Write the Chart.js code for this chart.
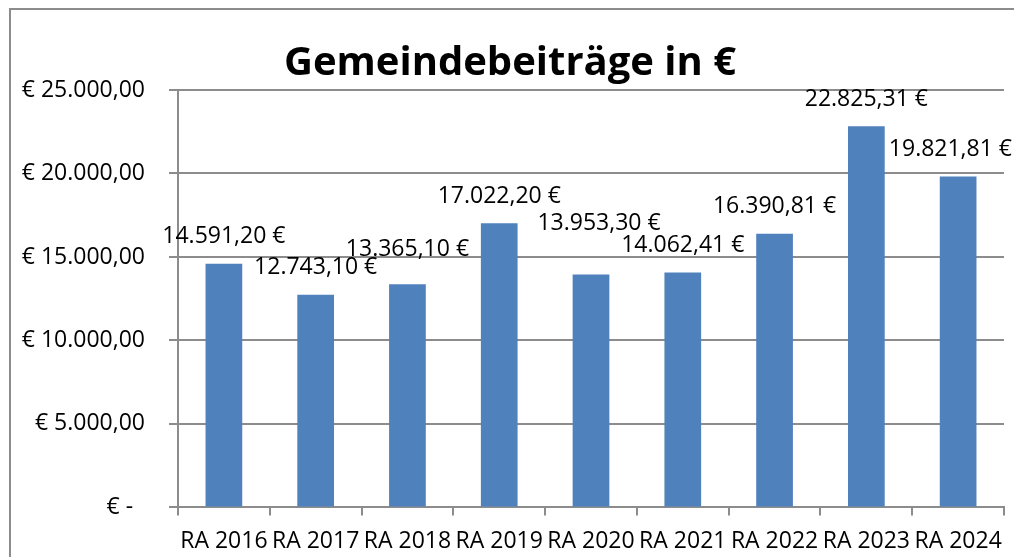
<!DOCTYPE html>
<html>
<head>
<meta charset="utf-8">
<script src="https://cdn.jsdelivr.net/npm/chart.js@4.4.0/dist/chart.umd.min.js"></script>
<style>
  html, body { margin: 0; padding: 0; background: #fff; overflow: hidden; }
  #wrap { position: relative; width: 1014px; height: 557px; overflow: hidden; }
  #frame { position: absolute; left: 9px; top: 8px; right: -10px; bottom: -10px; border-left: 2px solid #8c8c8c; border-top: 2px solid #8c8c8c; pointer-events: none; }
</style>
</head>
<body>
<div id="wrap">
  <canvas id="chart" width="1014" height="569"></canvas>
  <div id="frame"></div>
</div>
<script>
// Gemeindebeiträge in € - Rechnungsabschlüsse 2016-2024
const categories = ['RA 2016', 'RA 2017', 'RA 2018', 'RA 2019', 'RA 2020', 'RA 2021', 'RA 2022', 'RA 2023', 'RA 2024'];
const values = [14591.20, 12743.10, 13365.10, 17022.20, 13953.30, 14062.41, 16390.81, 22825.31, 19821.81];
const yTicks = [0, 5000, 10000, 15000, 20000, 25000];

const FONT = "'Open Sans', sans-serif";

function formatDe(v) {
  return new Intl.NumberFormat('de-DE', { minimumFractionDigits: 2, maximumFractionDigits: 2 }).format(v);
}

function formatAxis(v) {
  if (v === 0) return '€ -  ';
  return '€ ' + formatDe(v);
}

// draws the value labels above the bars (no datalabels plugin available)
const valueLabels = {
  id: 'valueLabels',
  afterDatasetsDraw(chart, args, opts) {
    const ctx = chart.ctx;
    const meta = chart.getDatasetMeta(0);
    ctx.save();
    ctx.font = opts.size + 'px ' + FONT;
    ctx.fillStyle = '#000';
    ctx.textAlign = 'center';
    ctx.textBaseline = 'middle';
    meta.data.forEach((bar, i) => {
      const text = formatDe(values[i]) + ' €';
      const w = ctx.measureText(text).width;
      const nudge = opts.nudge[i] || [0, 0];
      let x = bar.x + nudge[0];
      const maxRight = chart.width - 2;
      if (x + w / 2 > maxRight) x = maxRight - w / 2;
      const y = bar.y - opts.offset + nudge[1];
      ctx.fillText(text, x, y);
    });
    ctx.restore();
  }
};

const ctx = document.getElementById('chart');
new Chart(ctx.getContext('2d'), {
  type: 'bar',
  data: {
    labels: categories,
    datasets: [{
      data: values,
      backgroundColor: '#4F81BD',
      borderWidth: 0,
      barPercentage: 0.4,
      categoryPercentage: 1.0
    }]
  },
  plugins: [valueLabels],
  options: {
    responsive: false,
    animation: false,
    layout: { padding: { left: 10, right: 4, top: 0, bottom: 2 } },
    plugins: {
      legend: { display: false },
      tooltip: { enabled: false },
      title: {
        display: true,
        text: 'Gemeindebeiträge in €',
        color: '#000',
        font: { family: FONT, size: 40, weight: 'bold', lineHeight: 1.2 },
        padding: { top: 40, bottom: 2 }
      },
      valueLabels: {
        size: 23,
        offset: 27,
        nudge: [[0, 0], [0, 0], [0, -8], [0, 0], [8, -24], [0, 0], [0, 0], [0, 0], [0, 0]]
      }
    },
    scales: {
      x: {
        grid: { display: true, drawOnChartArea: false, drawTicks: true, tickLength: 8, color: '#8c8c8c', lineWidth: 2, offset: true },
        border: { color: '#8c8c8c', width: 2 },
        ticks: { color: '#000', font: { family: FONT, size: 23 }, padding: 12, maxRotation: 0, autoSkip: false }
      },
      y: {
        min: 0,
        max: 25000,
        afterFit: s => { s.width = 168; },
        afterBuildTicks: s => { s.ticks = yTicks.map(v => ({ value: v })); },
        grid: { color: '#8c8c8c', lineWidth: 2, tickLength: 9 },
        border: { color: '#8c8c8c', width: 2 },
        ticks: { color: '#000', font: { family: FONT, size: 23 }, padding: 24, callback: v => formatAxis(v) }
      }
    }
  }
});
</script>
</body>
</html>
